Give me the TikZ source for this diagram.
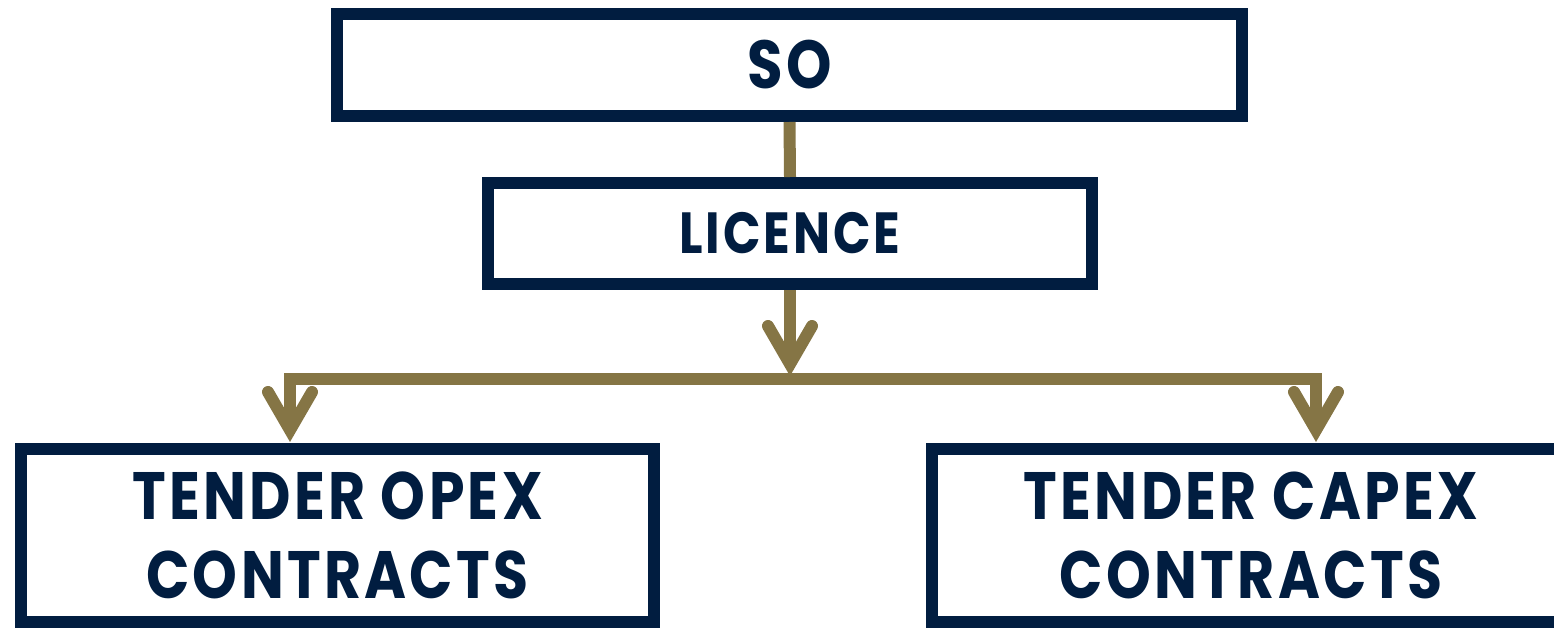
\documentclass[tikz,border=0pt]{standalone}
\usepackage{fontspec}
\newfontfamily\boxfont[FakeStretch=0.85,LetterSpace=5]{Poppins Bold}
\definecolor{navy}{RGB}{1,29,64}
\definecolor{olive}{RGB}{133,117,69}
\tikzset{
  box/.style={draw=navy, line width=12pt, rectangle, inner sep=0pt, text=navy, align=center, font=\boxfont},
  link/.style={draw=olive, line width=12pt},
  head/.style={draw=olive, line width=12pt, line cap=round, line join=miter}
}
\begin{document}
\begin{tikzpicture}[x=1pt,y=-1pt]
\useasboundingbox (0,0) rectangle (1554,628);
\clip (0,0) rectangle (1554,628);
\node[box, minimum width=905pt, minimum height=102pt, font=\boxfont\fontsize{68}{80}\selectfont] (so) at (789.5,65) {SO};
\node[box, minimum width=604pt, minimum height=101pt, font=\boxfont\fontsize{58}{70}\selectfont] (lic) at (790,233.5) {LICENCE};
\node[box, minimum width=633pt, minimum height=173pt, font=\boxfont\fontsize{67}{79}\selectfont] (opex) at (337.5,535.5) {\raisebox{-4pt}{TENDER OPEX}\\\raisebox{-4pt}{CONTRACTS}};
\node[box, minimum width=638pt, minimum height=173pt, font=\boxfont\fontsize{67}{79}\selectfont] (capex) at (1251,535.5) {\raisebox{-4pt}{TENDER CAPEX}\\\raisebox{-4pt}{CONTRACTS}};
\coordinate (mid) at (790,364);
\coordinate (lt) at (290,430);
\coordinate (rt) at (1316,430);
\coordinate (bar) at (790,379);
\draw[link] (so.south) -- (lic.north);
\draw[link] (lic.south) -- (mid);
\draw[link, line join=miter] (lt) -- (lt |- bar) -- (rt |- bar) -- (rt);
\draw[head] ([shift={(-22,-38)}]mid) -- (mid) -- ([shift={(22,-38)}]mid);
\draw[head] ([shift={(-22,-38)}]lt) -- (lt) -- ([shift={(22,-38)}]lt);
\draw[head] ([shift={(-22,-38)}]rt) -- (rt) -- ([shift={(22,-38)}]rt);
\end{tikzpicture}
\end{document}
